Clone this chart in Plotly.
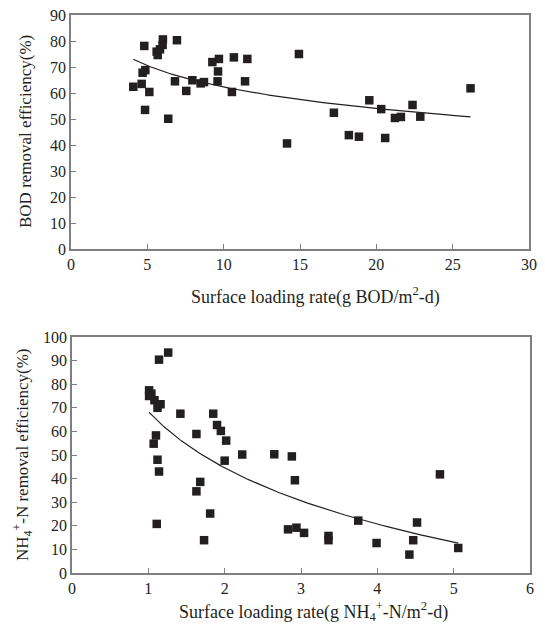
import numpy as np
import plotly.graph_objects as go

# ---- Top panel: BOD ----
bod_load = [4.08, 4.80, 4.63, 4.69, 4.87, 5.13, 4.85, 5.61, 5.68, 5.83, 6.00, 6.02, 6.94,
            6.37, 6.81, 7.55, 7.95, 8.49, 8.71, 9.26, 9.69, 9.63, 9.60, 10.54, 10.67,
            11.55, 11.40, 14.15, 14.93, 19.54, 17.22, 20.32, 22.37, 21.22, 21.61, 22.88,
            18.20, 18.86, 20.58, 26.17]
bod_eff = [62.4, 78.1, 63.5, 67.8, 68.8, 60.4, 53.5, 75.9, 74.6, 76.8, 78.5, 80.6, 80.3,
           50.1, 64.5, 60.8, 64.9, 63.7, 64.2, 71.9, 73.1, 68.3, 64.5, 60.4, 73.7,
           73.1, 64.5, 40.6, 75.0, 57.2, 52.4, 53.8, 55.4, 50.4, 50.8, 50.9,
           43.8, 43.2, 42.7, 61.8]
bod_fit = (89.7, -11.9)   # y = a + b*ln(x)

# ---- Bottom panel: NH4+-N ----
nh4_load = [1.01, 1.01, 1.04, 1.08, 1.12, 1.16, 1.14, 1.26, 1.10, 1.07, 1.12, 1.14, 1.11,
            1.42, 1.63, 1.68, 1.63, 1.81, 1.73, 1.85, 1.90, 1.95, 2.02, 2.00, 2.23,
            2.65, 2.88, 2.92, 2.83, 2.94, 3.04, 3.36, 3.36, 3.75, 3.99, 4.82, 4.52,
            4.47, 4.42, 5.06]
nh4_eff = [77.4, 75.0, 76.0, 73.2, 70.0, 71.5, 90.4, 93.4, 58.3, 54.8, 48.0, 43.0, 20.8,
           67.5, 58.9, 38.6, 34.6, 25.2, 13.9, 67.5, 62.7, 60.2, 56.1, 47.6, 50.2,
           50.3, 49.4, 39.3, 18.5, 19.2, 17.0, 15.7, 13.9, 22.2, 12.7, 41.8, 21.4,
           13.9, 7.8, 10.6]
nh4_fit = (68.4, -34.4)

W, H = 545, 625
FONT = "Liberation Serif"
AX = "#7f7f7f"
INK = "#231f20"

def px(x):
    return x / W

def py(y):
    return 1 - y / H

fig = go.Figure()

def add_panel(xs, ys, fit, xa, ya):
    fig.add_trace(go.Scatter(x=xs, y=ys, mode="markers", xaxis=xa, yaxis=ya,
                             marker=dict(symbol="square", size=8.5, color=INK,
                                         line=dict(width=0)),
                             showlegend=False, cliponaxis=False))
    xc = np.linspace(min(xs), max(xs), 200)
    yc = fit[0] + fit[1] * np.log(xc)
    fig.add_trace(go.Scatter(x=xc, y=yc, mode="lines", xaxis=xa, yaxis=ya,
                             line=dict(color=INK, width=1.2), showlegend=False))

add_panel(bod_load, bod_eff, bod_fit, "x", "y")
add_panel(nh4_load, nh4_eff, nh4_fit, "x2", "y2")

axis_common = dict(showgrid=False, zeroline=False, showline=True, linecolor=AX,
                   linewidth=1.6, mirror=True, ticks="inside", ticklen=5,
                   tickcolor=AX, tickwidth=1.2, automargin=False,
                   tickfont=dict(family=FONT, size=16, color=INK))

fig.update_layout(
    width=W, height=H, margin=dict(l=0, r=0, t=0, b=0, pad=0, autoexpand=False),
    paper_bgcolor="white", plot_bgcolor="white",
    xaxis=dict(domain=[px(71), px(529)], range=[0, 30], dtick=5, anchor="y",
               **axis_common),
    yaxis=dict(domain=[py(249), py(15)], range=[0, 90], dtick=10, anchor="x",
               **axis_common),
    xaxis2=dict(domain=[px(72), px(530)], range=[0, 6], dtick=1, anchor="y2",
                **axis_common),
    yaxis2=dict(domain=[py(573), py(337)], range=[0, 100], dtick=10, anchor="x2",
                **axis_common),
)

tfont_x = dict(family=FONT, size=18, color=INK)
tfont_y = dict(family=FONT, size=17, color=INK)
fig.add_annotation(text="Surface loading rate(g BOD/m<sup>2</sup>-d)", x=px(315), y=py(296),
                   xref="paper", yref="paper", showarrow=False, font=tfont_x,
                   xanchor="center", yanchor="middle")
fig.add_annotation(text="BOD removal efficiency(%)", x=px(25), y=py(132),
                   xref="paper", yref="paper", showarrow=False, font=tfont_y,
                   textangle=-90, xanchor="center", yanchor="middle")
fig.add_annotation(text="Surface loading rate(g NH<sub>4</sub><sup>+</sup>-N/m<sup>2</sup>-d)",
                   x=px(313), y=py(611), xref="paper", yref="paper", showarrow=False,
                   font=tfont_x, xanchor="center", yanchor="middle")
fig.add_annotation(text="NH<sub>4</sub><sup>+</sup>-N removal efficiency(%)", x=px(22), y=py(455),
                   xref="paper", yref="paper", showarrow=False, font=tfont_y,
                   textangle=-90, xanchor="center", yanchor="middle")

fig.write_html("out.html", config={"displayModeBar": False},
               post_script="document.body.style.margin='0';document.body.style.overflow='hidden';")
